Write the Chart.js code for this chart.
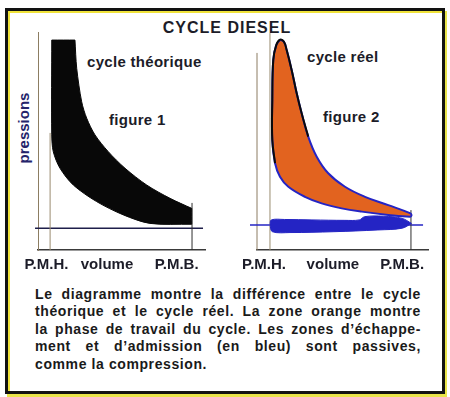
<!DOCTYPE html>
<html lang="fr">
<head>
<meta charset="UTF-8">
<title>Cycle Diesel</title>
<script src="https://cdn.jsdelivr.net/npm/chart.js"></script>
<style>
    html, body { margin: 0; padding: 0; background: #fff; }
    body { position: relative; width: 450px; height: 397px; overflow: hidden;
           font-family: 'Liberation Sans', Arial, sans-serif; color: #1c1c28; }
    #cadre { position: absolute; left: 5px; top: 8px; width: 434px; height: 380px;
             border: 3px solid #121212;
             box-shadow: inset 2px 2px 0 #efe23a, 2px 3px 0 #e9e44a; }
    canvas { position: absolute; }
    #fig1 { left: 8px; top: 20px; }
    #fig2 { left: 230px; top: 20px; }
    .txt { position: absolute; font-weight: bold; white-space: nowrap; font-size: 15px; line-height: 18px; letter-spacing: 0.3px; }
    #titre { left: 2px; width: 450px; top: 18px; text-align: center; font-size: 16px; line-height: 20px; letter-spacing: 1px; }
    #pressions { left: 24px; top: 128px; font-size: 15px; letter-spacing: 0; color: #24246a;
                 transform: translate(-50%, -50%) rotate(-90deg); }
    #legende { position: absolute; left: 35px; top: 286px; width: 386px; font-weight: bold;
               font-size: 14px; line-height: 17.4px; letter-spacing: 0.6px; color: #1a1a1a; }
    #legende div { text-align: justify; text-align-last: justify; white-space: nowrap; }
    #legende div:last-child { text-align-last: left; }
</style>
</head>
<body>
<div id="cadre"></div>
<div class="txt" id="titre">CYCLE DIESEL</div>
<div class="txt" style="left:87px; top:53px;">cycle théorique</div>
<div class="txt" style="left:109px; top:111px;">figure 1</div>
<div class="txt" style="left:307px; top:48px;">cycle réel</div>
<div class="txt" style="left:323px; top:108px;">figure 2</div>
<div class="txt" id="pressions">pressions</div>

<canvas id="fig1" width="212" height="265"></canvas>
<canvas id="fig2" width="215" height="265"></canvas>

<div id="legende">
    <div>Le diagramme montre la différence entre le cycle</div>
    <div>théorique et le cycle réel. La zone orange montre</div>
    <div>la phase de travail du cycle. Les zones d’échappe-</div>
    <div>ment et d’admission (en bleu) sont passives,</div>
    <div>comme la compression.</div>
</div>

<script>
    // repères de l'axe des volumes
    const etiquettesVolume = ["P.M.H.", "volume", "P.M.B."];
    const volPMH = 1.1;
    const volPMB = 14;
    const pressionAtm = 1;

    // figure 1 : cycle théorique [volume, pression]
    const theoCombustion = [[1.25, 9.63], [3.36, 9.63]];
    const theoDetente = [[3.36, 9.63], [3.52, 8.33], [3.97, 6.8], [4.43, 6.04], [5.18, 5.28], [6.39, 4.51],
                         [7.91, 3.75], [9.88, 2.98], [12.0, 2.37], [13.97, 1.91]];
    const theoEchappement = [[13.97, 1.91], [13.97, 1.18]];
    const theoCompression = [[13.97, 1.18], [10.18, 1.22], [7.76, 1.61], [5.33, 2.22], [3.21, 2.98],
                             [2.0, 3.75], [1.39, 4.51], [1.25, 5.28], [1.25, 9.63]];

    // figure 2 : cycle réel [volume, pression]
    const reelDetente = [[2.1, 9.65], [2.45, 9.55], [2.7, 9.17], [3.15, 8.26], [3.61, 7.19], [4.06, 6.27],
                         [4.66, 5.2], [5.43, 4.28], [6.48, 3.52], [8.0, 2.9], [9.82, 2.44], [11.94, 2.06],
                         [13.91, 1.69], [14.05, 1.6]];
    const reelCompression = [[13.91, 1.53], [11.94, 1.61], [9.52, 1.76], [7.7, 1.91], [5.88, 2.14],
                             [4.36, 2.44], [2.85, 2.9], [2.09, 3.36], [1.64, 3.98], [1.39, 5.05],
                             [1.39, 6.88], [1.48, 8.72], [1.75, 9.4], [2.1, 9.65]];
    const reelEchappement = [[1.18, 1.15], [1.3, 1.38], [2.5, 1.4], [5, 1.38], [8, 1.36], [9.3, 1.38],
                             [9.8, 1.53], [11.5, 1.55], [13.2, 1.45], [14.05, 1.22]];
    const reelAdmission = [[14.05, 1.22], [13.2, 1.0], [11, 0.92], [7, 0.84], [3, 0.8], [1.4, 0.84],
                           [1.18, 1.15]];

    const pts = arr => arr.map(([x, y]) => ({x, y}));
    const trait = (data, color, width, tension = 0) => ({
        data: pts(data), showLine: true, borderColor: color, borderWidth: width,
        pointRadius: 0, tension: tension, fill: false, clip: false
    });

    const policeAxe = { family: "'Liberation Sans', Arial, sans-serif", size: 15, weight: "bold" };

    function axeVolumes(max, positions) {
        return {
            type: "linear", min: 0, max: max,
            grid: { display: false, drawTicks: false },
            border: { display: true, color: "#3a3a3a", width: 1.5 },
            afterBuildTicks: axe => { axe.ticks = positions.map(v => ({ value: v })); },
            afterFit: axe => { axe.height = 35; },
            ticks: { padding: 6, color: "#1c1c28", font: policeAxe, autoSkip: false, maxRotation: 0,
                     callback: (v, i) => etiquettesVolume[i] }
        };
    }

    const optionsCommunes = {
        responsive: false,
        animation: false,
        plugins: { legend: { display: false }, tooltip: { enabled: false } },
        events: []
    };

    // Figure 1
    new Chart(document.getElementById("fig1"), {
        type: "scatter",
        data: {
            datasets: [
                {
                    data: pts([...theoCombustion, ...theoDetente, ...theoEchappement, ...theoCompression]),
                    showLine: true, fill: "shape", backgroundColor: "#080808", borderColor: "#080808",
                    borderWidth: 1, pointRadius: 0, tension: 0.3
                },
                trait([[volPMB, 0], [volPMB, 2.16]], "#2e2e2e", 1),
                trait([[volPMH, 0], [volPMH, 5.37]], "#9a8c70", 1),
                trait([[-0.27, pressionAtm], [15.0, pressionAtm]], "#1e1e4a", 1.5)
            ]
        },
        options: {
            ...optionsCommunes,
            layout: { padding: { top: 12, right: 15, left: 0, bottom: 0 } },
            scales: {
                x: axeVolumes(15.18, [0.77, 6.27, 12.6]),
                y: {
                    min: 0, max: 10,
                    grid: { display: false, drawTicks: false },
                    border: { display: true, color: "#8c7d62", width: 1 },
                    ticks: { display: false },
                    afterFit: axe => { axe.width = 30; }
                }
            }
        }
    });

    // Figure 2 : contour noir sur le haut du cycle (pic de combustion)
    const noir = "#0a0a0a", bleu = "#2424c4";
    const contourNoir = [...reelCompression.slice(8), ...reelDetente.slice(1, 7)];
    new Chart(document.getElementById("fig2"), {
        type: "scatter",
        data: {
            datasets: [
                trait(contourNoir, noir, 2, 0.4),
                {
                    data: pts([...reelDetente, ...reelCompression]),
                    showLine: true, fill: "shape", backgroundColor: "#e2631f", borderColor: bleu,
                    borderWidth: 2, pointRadius: 0, tension: 0.4
                },
                {
                    data: pts([...reelEchappement, ...reelAdmission]),
                    showLine: true, fill: "shape", backgroundColor: bleu, borderColor: bleu,
                    borderWidth: 1, pointRadius: 0, tension: 0.35
                },
                trait([[1.18, 0], [1.18, 9.95]], "#9a8c70", 1),
                trait([[volPMB, 0], [volPMB, 1.83]], "#2e2e2e", 1),
                trait([[-0.64, 1.15], [15.1, 1.15]], bleu, 1.5),
                trait([[0, 0], [0, 9.04]], "#8c7d62", 1)
            ]
        },
        options: {
            ...optionsCommunes,
            layout: { padding: { top: 12, right: 17, left: 27, bottom: 0 } },
            scales: {
                x: axeVolumes(15.55, [0.64, 6.9, 13.2]),
                y: { display: false, min: 0, max: 10 }
            }
        }
    });
</script>
</body>
</html>
